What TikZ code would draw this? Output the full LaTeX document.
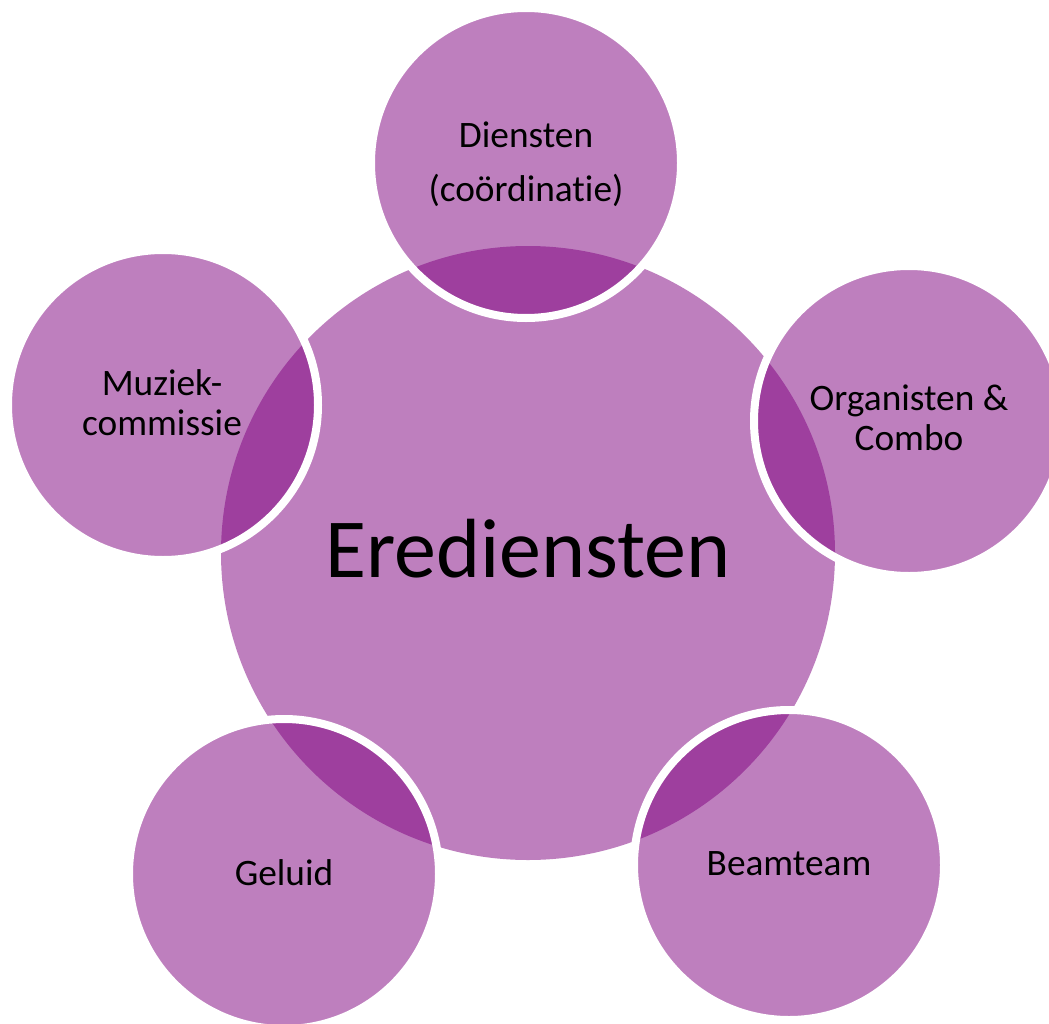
\documentclass[tikz,border=0pt]{standalone}
\usepackage{fontspec}
\setmainfont{Carlito}[Ligatures=NoCommon]
\usepackage{tikz}
\definecolor{erepurple}{RGB}{126,0,126}

\begin{document}
\begin{tikzpicture}[x=0.75pt,y=-0.75pt,
    satellite/.style={fill=erepurple, fill opacity=0.5, draw=white, line width=6pt},
    smalltext/.style={align=center, font=\fontsize{28}{30}\selectfont, inner sep=0pt, anchor=base},
    bigtext/.style={font=\fontsize{63}{70}\selectfont, inner sep=0pt, anchor=base}]
        \useasboundingbox (0,0) rectangle (1049,1024);
        \clip (0,0) rectangle (1049,1024);

        % Middelpunten
        \coordinate (C) at (528,553);
        \coordinate (D) at (526,163);
        \coordinate (O) at (909,421);
        \coordinate (B) at (789,865);
        \coordinate (G) at (284,874);
        \coordinate (M) at (163,405);

        % Grote cirkel
        \fill[erepurple, fill opacity=0.5] (C) circle (307);

        % Kleine cirkels
        \foreach \p in {D,O,B,G,M}
            \draw[satellite] (\p) circle (155);

        % Teksten (basislijn van de laatste regel)
        \node[bigtext] (ere) at (528,577) {Erediensten};
        \node[smalltext] (diensten) at (526,201) {Diensten\\[10.5pt](coördinatie)};
        \node[smalltext] (organisten) at (909,450) {Organisten \&\\Combo};
        \node[smalltext] (muziek) at (162,435) {Muziek-\\commissie};
        \node[smalltext] (geluid) at (284,885) {Geluid};
        \node[smalltext] (beamteam) at (789,875) {Beamteam};
    \end{tikzpicture}
\end{document}
